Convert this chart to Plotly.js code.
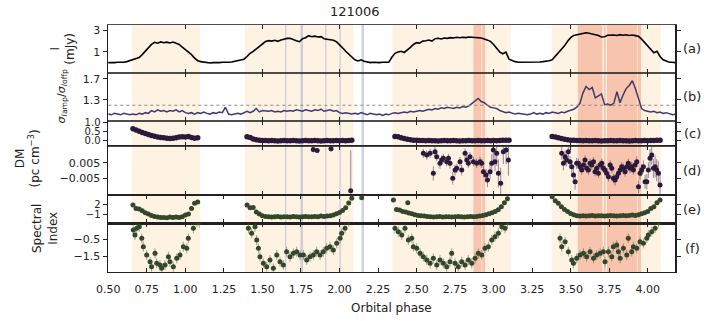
<!DOCTYPE html>
<html>
<head>
<meta charset="utf-8">
<script src="https://cdn.plot.ly/plotly-3.0.1.min.js"></script>
<style>body{margin:0;background:#fff}#graph{width:710px;height:321px}</style>
</head>
<body>
<div id="graph"></div>
<script>
// orbital phase grid of the two continuous panels
var phase = [
0.50,0.52,0.54,0.56,0.58,0.60,0.62,0.64,0.66,0.68,
0.70,0.72,0.74,0.76,0.78,0.80,0.82,0.84,0.86,0.88,
0.90,0.92,0.94,0.96,0.98,1.00,1.02,1.04,1.06,1.08,
1.10,1.12,1.14,1.16,1.18,1.20,1.22,1.24,1.26,1.28,
1.30,1.32,1.34,1.36,1.38,1.40,1.42,1.44,1.46,1.48,
1.50,1.52,1.54,1.56,1.58,1.60,1.62,1.64,1.66,1.68,
1.70,1.72,1.74,1.76,1.78,1.80,1.82,1.84,1.86,1.88,
1.90,1.92,1.94,1.96,1.98,2.00,2.02,2.04,2.06,2.08,
2.10,2.12,2.14,2.16,2.18,2.20,2.22,2.24,2.26,2.28,
2.30,2.32,2.34,2.36,2.38,2.40,2.42,2.44,2.46,2.48,
2.50,2.52,2.54,2.56,2.58,2.60,2.62,2.64,2.66,2.68,
2.70,2.72,2.74,2.76,2.78,2.80,2.82,2.84,2.86,2.88,
2.90,2.92,2.94,2.96,2.98,3.00,3.02,3.04,3.06,3.08,
3.10,3.12,3.14,3.16,3.18,3.20,3.22,3.24,3.26,3.28,
3.30,3.32,3.34,3.36,3.38,3.40,3.42,3.44,3.46,3.48,
3.50,3.52,3.54,3.56,3.58,3.60,3.62,3.64,3.66,3.68,
3.70,3.72,3.74,3.76,3.78,3.80,3.82,3.84,3.86,3.88,
3.90,3.92,3.94,3.96,3.98,4.00,4.02,4.04,4.06,4.08,
4.10,4.12,4.14,4.16,4.18];

// (a) flux density, mJy
var flux = [
0.57,0.56,0.57,0.58,0.57,0.58,0.60,0.63,0.66,0.70,
0.74,0.86,1.02,1.19,1.45,1.62,1.55,1.65,1.58,1.63,
1.56,1.64,1.57,1.45,1.26,1.12,0.96,0.86,0.72,0.63,
0.60,0.58,0.57,0.56,0.57,0.56,0.57,0.58,0.57,0.58,
0.59,0.61,0.62,0.64,0.68,0.78,0.92,1.02,1.15,1.34,
1.45,1.68,1.76,1.72,1.80,1.70,1.82,1.90,1.98,1.99,
1.85,1.75,1.67,1.95,2.05,2.27,2.15,2.22,2.12,2.16,
1.95,1.92,1.88,1.80,1.67,1.45,1.22,1.02,0.88,0.76,
0.66,0.62,0.66,0.61,0.58,0.57,0.58,0.57,0.57,0.58,
0.57,0.58,0.75,0.92,0.98,1.02,0.96,1.08,1.25,1.45,
1.59,1.55,1.72,1.76,1.82,1.72,1.95,1.99,1.92,2.02,
1.98,2.06,2.02,2.09,2.04,2.10,2.06,2.12,2.08,2.12,
2.05,2.02,1.92,1.82,1.70,1.45,1.22,0.98,0.90,0.98,
0.68,0.63,0.60,0.58,0.58,0.57,0.58,0.57,0.58,0.57,
0.59,0.60,0.61,0.63,0.66,0.78,0.92,1.08,1.35,1.70,
2.05,2.30,2.38,2.45,2.55,2.65,2.58,2.50,2.38,2.30,
2.12,2.15,2.32,2.38,2.36,2.30,2.40,2.32,2.38,2.30,
2.36,2.28,2.20,1.90,1.62,1.36,1.15,0.95,1.02,0.78,
0.66,0.61,0.58,0.58,0.57];

// (b) sigma ratio on/off pulse
var sigmaRatio = [
1.08,1.07,1.09,1.08,1.07,1.09,1.08,1.07,1.08,1.07,
1.09,1.08,1.10,1.09,1.13,1.11,1.14,1.12,1.13,1.11,
1.13,1.12,1.14,1.11,1.13,1.10,1.09,1.10,1.08,1.10,
1.09,1.11,1.09,1.08,1.10,1.09,1.11,1.10,1.18,1.08,
1.07,1.08,1.09,1.08,1.10,1.12,1.10,1.12,1.16,1.11,
1.13,1.12,1.12,1.13,1.11,1.12,1.11,1.13,1.12,1.13,
1.12,1.14,1.13,1.12,1.14,1.13,1.12,1.14,1.13,1.15,
1.12,1.13,1.14,1.12,1.13,1.10,1.09,1.10,1.09,1.08,
1.09,1.08,1.10,1.08,1.07,1.09,1.08,1.07,1.08,1.06,
1.08,1.07,1.09,1.10,1.09,1.10,1.11,1.10,1.12,1.11,
1.12,1.13,1.12,1.14,1.15,1.14,1.16,1.15,1.17,1.16,
1.18,1.17,1.16,1.18,1.17,1.19,1.18,1.20,1.24,1.29,
1.32,1.27,1.25,1.21,1.18,1.17,1.16,1.13,1.12,1.10,
1.11,1.09,1.08,1.09,1.08,1.08,1.07,1.08,1.10,1.08,
1.09,1.08,1.10,1.09,1.11,1.10,1.09,1.11,1.10,1.12,
1.13,1.15,1.18,1.24,1.42,1.54,1.48,1.52,1.33,1.36,
1.40,1.22,1.23,1.21,1.24,1.44,1.25,1.38,1.50,1.56,
1.66,1.50,1.30,1.16,1.13,1.12,1.11,1.12,1.10,1.11,
1.09,1.10,1.08,1.07,1.08];
var sigmaLimit = 1.21;

// (c) DM, coarse scale
var dmPhase = [
0.66,0.68,0.70,0.72,0.74,0.76,0.78,0.80,0.82,0.84,0.86,0.88,0.90,0.92,0.94,0.96,0.98,1.00,1.02,1.04,1.06,1.08,
1.40,1.42,1.44,1.46,1.48,1.50,1.52,1.54,1.56,1.58,1.60,1.62,1.64,1.66,1.68,1.70,1.72,1.74,1.76,1.78,1.80,1.82,1.84,1.86,1.88,1.90,1.92,1.94,1.96,1.98,2.00,2.02,2.04,2.06,2.08,
2.36,2.38,2.40,2.42,2.44,2.46,2.48,2.50,2.52,2.54,2.56,2.58,2.60,2.62,2.64,2.66,2.68,2.70,2.72,2.74,2.76,2.78,2.80,2.82,2.84,2.86,2.88,2.90,2.92,2.94,2.96,2.98,3.00,3.02,3.04,3.06,3.08,3.10,
3.38,3.40,3.42,3.44,3.46,3.48,3.50,3.52,3.54,3.56,3.58,3.60,3.62,3.64,3.66,3.68,3.70,3.72,3.74,3.76,3.78,3.80,3.82,3.84,3.86,3.88,3.90,3.92,3.94,3.96,3.98,4.00,4.02,4.04,4.06,4.08];
var dm = [
0.67,0.60,0.52,0.46,0.40,0.34,0.29,0.25,0.21,0.18,0.16,0.14,0.13,0.14,0.16,0.20,0.22,0.21,0.24,0.18,0.14,0.16,
0.22,0.18,0.10,0.06,0.03,0.01,0.01,0.00,0.01,0.00,-0.01,0.00,0.01,0.00,0.00,0.01,0.00,-0.01,0.00,0.01,0.00,0.00,0.01,0.00,-0.01,0.00,0.01,0.00,0.00,0.01,0.00,0.01,0.00,0.01,0.02,
0.24,0.22,0.17,0.12,0.08,0.05,0.03,0.02,0.01,0.01,0.00,0.01,0.00,0.00,-0.01,0.00,0.01,0.00,0.00,0.01,0.00,-0.01,0.00,0.00,0.01,0.00,0.00,0.01,0.00,0.00,0.01,0.00,0.01,0.00,0.01,0.02,0.02,0.03,
0.24,0.21,0.17,0.12,0.08,0.05,0.03,0.02,0.01,0.01,0.00,0.01,0.00,0.00,0.01,0.00,-0.01,0.00,0.00,0.01,0.00,0.00,0.01,0.00,0.00,-0.01,0.00,0.01,0.00,0.00,0.01,0.00,0.01,0.01,0.02,0.02];

// (d) DM, fine scale
var dmFinePhase = [
1.830,1.855,1.945,2.073,
2.544,2.566,2.588,2.609,2.620,2.631,2.652,2.663,2.674,2.696,2.707,2.717,2.735,2.750,2.761,2.782,2.793,2.815,2.826,2.836,2.847,2.869,2.890,2.912,2.923,2.934,2.951,2.960,2.977,2.988,2.998,3.009,3.020,3.031,3.046,3.063,3.081,3.096,
3.442,3.453,3.464,3.474,3.485,3.496,3.507,3.518,3.529,3.539,3.550,3.561,3.572,3.583,3.593,3.604,3.615,3.626,3.637,3.648,3.658,3.669,3.680,3.691,3.702,3.712,3.723,3.734,3.745,3.756,3.767,3.777,3.788,3.799,3.810,3.821,3.831,3.842,3.853,3.864,3.874,3.885,3.896,3.907,3.918,3.929,3.940,3.950,3.961,3.972,3.983,3.994,4.004,4.015,4.026,4.037,4.048,4.058,4.069,4.080];
var dmFine = [
0.0135,0.0128,0.0140,-0.0130,
0.0110,0.0099,0.0110,-0.0018,0.0121,0.0089,0.0046,0.0067,0.0078,0.0057,0.0078,0.0046,-0.0050,0.0003,0.0014,0.0057,0.0003,0.0110,0.0067,0.0046,0.0089,0.0057,0.0046,0.0057,0.0046,-0.0008,-0.0029,-0.0061,-0.0008,0.0046,0.0131,0.0057,0.0110,-0.0018,-0.0082,0.0121,0.0131,0.0067,
0.0110,0.0046,0.0089,0.0067,0.0121,0.0057,0.0025,-0.0029,-0.0072,0.0046,0.0046,0.0025,0.0003,0.0035,0.0067,0.0014,0.0003,0.0046,0.0035,0.0057,-0.0008,0.0014,-0.0018,0.0035,0.0046,0.0014,0.0003,-0.0018,-0.0040,0.0035,0.0014,-0.0050,-0.0061,-0.0040,-0.0018,0.0003,0.0025,0.0014,-0.0008,0.0025,0.0046,0.0014,0.0025,0.0003,0.0035,0.0057,-0.0104,-0.0018,0.0003,0.0025,-0.0072,-0.0072,0.0003,0.0078,0.0099,0.0014,0.0025,0.0003,-0.0018,-0.0093];
var dmFineErr = [
0.0020,0.0015,0.0020,0.0260,
0.0030,0.0030,0.0030,0.0045,0.0030,0.0030,0.0035,0.0030,0.0030,0.0030,0.0030,0.0035,0.0040,0.0035,0.0030,0.0030,0.0035,0.0030,0.0030,0.0030,0.0030,0.0030,0.0030,0.0030,0.0030,0.0035,0.0040,0.0045,0.0050,0.0060,0.0070,0.0060,0.0080,0.0090,0.0100,0.0080,0.0090,0.0100,
0.0040,0.0045,0.0040,0.0040,0.0040,0.0035,0.0040,0.0045,0.0050,0.0035,0.0030,0.0030,0.0030,0.0030,0.0030,0.0030,0.0030,0.0030,0.0030,0.0030,0.0030,0.0030,0.0030,0.0030,0.0030,0.0030,0.0030,0.0030,0.0030,0.0030,0.0030,0.0030,0.0035,0.0030,0.0030,0.0030,0.0030,0.0030,0.0030,0.0030,0.0030,0.0030,0.0030,0.0030,0.0030,0.0035,0.0040,0.0040,0.0040,0.0040,0.0045,0.0050,0.0050,0.0060,0.0060,0.0060,0.0070,0.0070,0.0080,0.0090];

// (e) spectral index, wide scale
var spPhase = [
0.66,0.68,0.70,0.72,0.74,0.76,0.78,0.80,0.82,0.84,0.86,0.88,0.90,0.92,0.94,0.96,0.98,1.00,1.02,1.04,1.06,1.08,
1.40,1.42,1.44,1.46,1.48,1.50,1.52,1.54,1.56,1.58,1.60,1.62,1.64,1.66,1.68,1.70,1.72,1.74,1.76,1.78,1.80,1.82,1.84,1.86,1.88,1.90,1.92,1.94,1.96,1.98,2.00,2.02,2.04,2.06,2.08,
2.144,
2.35,2.37,2.39,2.41,2.43,2.443,2.45,2.47,2.49,2.51,2.53,2.55,2.57,2.59,2.61,2.63,2.65,2.67,2.69,2.71,2.73,2.75,2.77,2.79,2.81,2.83,2.85,2.87,2.89,2.91,2.93,2.95,2.97,2.99,3.01,3.03,3.05,3.07,3.09,
3.38,3.40,3.42,3.44,3.46,3.48,3.50,3.52,3.54,3.56,3.58,3.60,3.62,3.64,3.66,3.68,3.70,3.72,3.74,3.76,3.78,3.80,3.82,3.84,3.86,3.88,3.90,3.92,3.94,3.96,3.98,4.00,4.02,4.04,4.06,4.08];
var spIndex = [
1.7,0.7,0.5,0.0,-0.6,-1.0,-1.4,-1.7,-1.9,-2.0,-2.0,-2.1,-1.9,-2.0,-1.9,-2.0,-1.8,-1.3,-1.0,0.7,2.2,2.6,
1.7,0.9,1.0,-0.4,-1.0,-1.5,-1.7,-1.8,-1.9,-1.8,-1.7,-1.9,-1.8,-1.8,-1.9,-1.7,-1.8,-1.9,-1.8,-1.7,-1.8,-1.8,-1.7,-1.8,-1.6,-1.7,-1.6,-1.5,-1.3,-0.9,-0.5,0.1,0.9,2.3,3.7,
3.9,
3.2,0.4,0.2,-0.2,-0.4,2.4,-0.7,-0.9,-1.2,-1.4,-1.5,-1.6,-1.7,-1.8,-1.9,-1.8,-1.7,-1.9,-1.8,-1.8,-1.9,-1.8,-1.7,-1.8,-1.9,-1.8,-1.7,-1.8,-1.7,-1.6,-1.4,-1.2,-0.9,-0.6,-0.2,0.3,1.2,2.4,3.6,
4.2,3.0,2.2,1.2,0.4,-0.2,-0.8,-1.2,-1.5,-1.6,-1.5,-1.6,-1.5,-1.4,-1.6,-1.5,-1.5,-1.6,-1.5,-1.4,-1.5,-1.6,-1.5,-1.4,-1.5,-1.4,-1.3,-1.4,-1.2,-0.9,-0.6,-0.2,0.7,1.2,2.4,3.2];

// (f) spectral index, fine scale
var spFinePhase = [
0.662,0.673,0.684,0.701,0.717,0.727,0.749,0.771,0.781,0.803,0.814,0.835,0.846,0.868,0.890,0.900,0.922,0.944,0.965,0.987,1.009,1.019,1.052,1.075,1.090,
1.409,1.430,1.452,1.463,1.474,1.484,1.506,1.528,1.549,1.571,1.593,1.614,1.636,1.657,1.679,1.701,1.722,1.744,1.766,1.787,1.809,1.830,1.852,1.874,1.895,1.917,1.939,1.960,1.982,2.004,2.014,2.036,2.060,
2.360,2.382,2.404,2.425,2.447,2.469,2.479,2.501,2.523,2.544,2.566,2.588,2.609,2.631,2.652,2.674,2.696,2.717,2.728,2.750,2.771,2.793,2.815,2.836,2.858,2.880,2.901,2.923,2.944,2.966,2.988,3.009,3.031,3.053,3.074,3.090,
3.431,3.442,3.464,3.485,3.507,3.518,3.539,3.561,3.583,3.604,3.626,3.648,3.669,3.691,3.712,3.723,3.745,3.767,3.777,3.799,3.810,3.821,3.842,3.864,3.874,3.896,3.907,3.929,3.950,3.972,3.994,4.004,4.026,4.048,4.070];
var spFine = [
0.06,-0.24,0.16,0.25,-0.44,-0.94,-1.44,-1.84,-2.14,-1.34,-1.94,-2.04,-2.24,-2.04,-1.54,-1.84,-2.14,-1.64,-1.44,-0.94,-1.04,-0.44,0.16,0.55,0.50,
0.16,-0.14,0.25,-0.54,-1.04,-1.54,-1.94,-2.14,-1.74,-2.24,-1.44,-1.84,-2.04,-1.24,-1.54,-1.34,-1.24,-1.44,-1.44,-1.74,-1.54,-1.44,-1.24,-1.44,-1.24,-1.04,-0.94,-1.14,-0.74,-0.44,-0.14,0.16,0.55,
0.16,-0.04,-0.24,0.16,-0.54,-0.44,-0.94,-1.04,-1.34,-1.54,-1.74,-1.94,-1.64,-2.04,-1.74,-1.94,-2.14,-1.84,-1.34,-1.94,-2.14,-1.84,-2.04,-1.74,-1.94,-1.64,-1.34,-1.44,-1.04,-0.94,-0.54,-0.34,-0.14,0.25,0.16,0.50,
-0.44,-0.94,-0.64,-1.24,-1.74,-1.94,-1.64,-1.44,-1.34,-1.54,-1.24,-1.64,-1.44,-1.34,-1.24,-1.84,-1.24,-1.54,-0.94,-0.84,-1.24,-1.64,-1.04,-1.44,-0.44,-1.24,-0.94,-1.04,-0.64,-0.74,-0.44,-0.24,-0.04,0.16,0.50];

// shaded intervals
var onPulse = [[0.652,1.095],[1.387,2.090],[2.343,3.111],[3.377,4.085]];
var hotSpans = [[2.869,2.921],[2.926,2.945],[3.546,3.706],[3.716,3.727],[3.735,3.930],[3.935,3.957]];
var blueLines = [[1.647,1.655],[1.747,1.763],[1.907,1.915],[2.000,2.008],[2.143,2.159]];

var ink = '#222';
var font = {family:'DejaVu Sans, sans-serif', size:11, color:ink};
var purple = '#2b1a3b';
var green = '#33472d';

var data = [
    {x:phase, y:flux, mode:'lines', line:{color:'#000', width:1.6}, xaxis:'x', yaxis:'y'},
    {x:phase, y:sigmaRatio, mode:'lines', line:{color:'#3d3a6e', width:1.5}, xaxis:'x2', yaxis:'y2'},
    {x:[phase[0], phase[phase.length-1]], y:[sigmaLimit, sigmaLimit], mode:'lines',
        line:{color:'#8a8a8a', width:1.2, dash:'dot'}, xaxis:'x2', yaxis:'y2'},
    {x:dmPhase, y:dm, mode:'markers', marker:{color:purple, size:5.5},
        error_y:{type:'constant', value:0.03, color:'rgba(90,70,110,0.5)', thickness:1, width:0},
        error_x:{type:'constant', value:0.012, color:'rgba(150,150,160,0.4)', thickness:1, width:0},
        xaxis:'x3', yaxis:'y3'},
    {x:dmFinePhase, y:dmFine, mode:'markers', marker:{color:purple, size:5},
        error_y:{type:'data', array:dmFineErr, color:'rgba(80,60,100,0.6)', thickness:1, width:0},
        error_x:{type:'constant', value:0.015, color:'rgba(150,150,160,0.45)', thickness:1, width:0},
        xaxis:'x4', yaxis:'y4'},
    {x:spPhase, y:spIndex, mode:'markers', marker:{color:green, size:5},
        error_y:{type:'constant', value:0.5, color:'rgba(80,100,70,0.5)', thickness:1, width:0},
        error_x:{type:'constant', value:0.015, color:'rgba(150,150,150,0.4)', thickness:1, width:0},
        xaxis:'x5', yaxis:'y5'},
    {x:spFinePhase, y:spFine, mode:'markers', marker:{color:green, size:5},
        error_y:{type:'constant', value:0.3, color:'rgba(80,100,70,0.55)', thickness:1, width:0},
        error_x:{type:'constant', value:0.015, color:'rgba(150,150,150,0.4)', thickness:1, width:0},
        xaxis:'x6', yaxis:'y6'}
];
data.forEach(function(t){ t.showlegend = false; t.hoverinfo = 'skip'; });

function xAxis(anchor, dtick, labels, lw){
    return {range:[0.498,4.177], anchor:anchor, showline:true, linecolor:ink, linewidth:lw,
        mirror:'ticks', ticks:'inside', ticklen:4, tickwidth:1, tickcolor:ink,
        tickmode:'linear', tick0:0.5, dtick:dtick, tickformat:'.2f', ticklabelstandoff:6,
        showticklabels:labels, showgrid:false, zeroline:false, tickfont:font};
}
function yAxis(anchor, domain, range, vals, text, type, size){
    return {domain:domain, range:range, anchor:anchor, type:type || 'linear', showline:true,
        linecolor:ink, linewidth:1.5, mirror:'ticks', ticks:'outside', ticklen:4, tickwidth:1,
        tickcolor:ink, tickmode:'array', tickvals:vals, ticktext:text,
        showgrid:false, zeroline:false,
        tickfont:{family:font.family, size:size || 11, color:ink}};
}

var shapes = [];
onPulse.forEach(function(s){
    shapes.push({type:'rect', xref:'x', yref:'paper', x0:s[0], x1:s[1], y0:0, y1:1,
        fillcolor:'#fef3e3', line:{width:0}, layer:'below'});
});
hotSpans.forEach(function(s){
    shapes.push({type:'rect', xref:'x', yref:'paper', x0:s[0], x1:s[1], y0:0, y1:1,
        fillcolor:'#f9c4ad', line:{width:0}, layer:'below'});
});
blueLines.forEach(function(s){
    shapes.push({type:'rect', xref:'x', yref:'paper', x0:s[0], x1:s[1], y0:0, y1:1,
        fillcolor:'rgba(150,150,215,0.45)', line:{width:0}, layer:'below'});
});

var big = {family:'DejaVu Sans, sans-serif', size:12, color:ink};
var tag = {family:'DejaVu Sans, sans-serif', size:13, color:ink};
var annotations = [
    {text:'121006', x:0.4356, y:1.053, font:tag},
    {text:'Orbital phase', x:0.5, y:-0.146, font:big},
    {text:'I<br>(mJy)', x:-0.079, y:0.905, textangle:-90, font:big},
    {text:'<i>σ</i><sub><i>I</i>amp</sub>/<i>σ</i><sub><i>I</i>offp</sub>', x:-0.082, y:0.709, textangle:-90,
        font:{family:'DejaVu Sans, sans-serif', size:11, color:ink}},
    {text:'DM<br>(pc cm<sup>−3</sup>)', x:-0.141, y:0.46, textangle:-90, font:big},
    {text:'Spectral<br>Index', x:-0.111, y:0.178, textangle:-90, font:big},
    {text:'(a)', x:1.03, y:0.905, font:tag},
    {text:'(b)', x:1.03, y:0.709, font:tag},
    {text:'(c)', x:1.03, y:0.561, font:tag},
    {text:'(d)', x:1.03, y:0.409, font:tag},
    {text:'(e)', x:1.03, y:0.253, font:tag},
    {text:'(f)', x:1.03, y:0.097, font:tag}
];
annotations.forEach(function(a){
    a.xref = 'paper'; a.yref = 'paper'; a.showarrow = false;
    a.xanchor = 'center'; a.yanchor = 'middle';
});

var layout = {
    width:710, height:321,
    margin:{l:108, r:35, t:25, b:49},
    paper_bgcolor:'#fff', plot_bgcolor:'rgba(0,0,0,0)',
    font:font, showlegend:false,
    xaxis:xAxis('y', 0.5, false, 0.8),
    xaxis2:xAxis('y2', 0.5, false, 0.8),
    xaxis3:xAxis('y3', 0.5, false, 0.8),
    xaxis4:xAxis('y4', 0.5, false, 1.3),
    xaxis5:xAxis('y5', 0.25, false, 1.3),
    xaxis6:xAxis('y6', 0.25, true, 1.3),
    yaxis:yAxis('x', [0.807,1], [-0.468,0.595], [1,3], ['1','3'], 'log'),
    yaxis2:yAxis('x2', [0.611,0.807], [-0.0057,0.265], [1.3,1.7], ['1.3','1.7'], 'log'),
    yaxis3:yAxis('x3', [0.51,0.611], [-0.294,1.089], [0,0.5,1], ['0.0','0.5','1.0'], 'linear', 10),
    yaxis4:yAxis('x4', [0.312,0.51], [-0.0156,0.0157], [-0.005,0.005], ['−0.005','0.005']),
    yaxis5:yAxis('x5', [0.197,0.312], [-3.79,4.73], [-1,2], ['−1','2'], 'linear', 10),
    yaxis6:yAxis('x6', [0,0.197], [-2.458,0.458], [-1.5,-0.5], ['−1.5','−0.5']),
    shapes:shapes,
    annotations:annotations
};

Plotly.newPlot('graph', data, layout, {displayModeBar:false, staticPlot:true});
</script>
</body>
</html>
